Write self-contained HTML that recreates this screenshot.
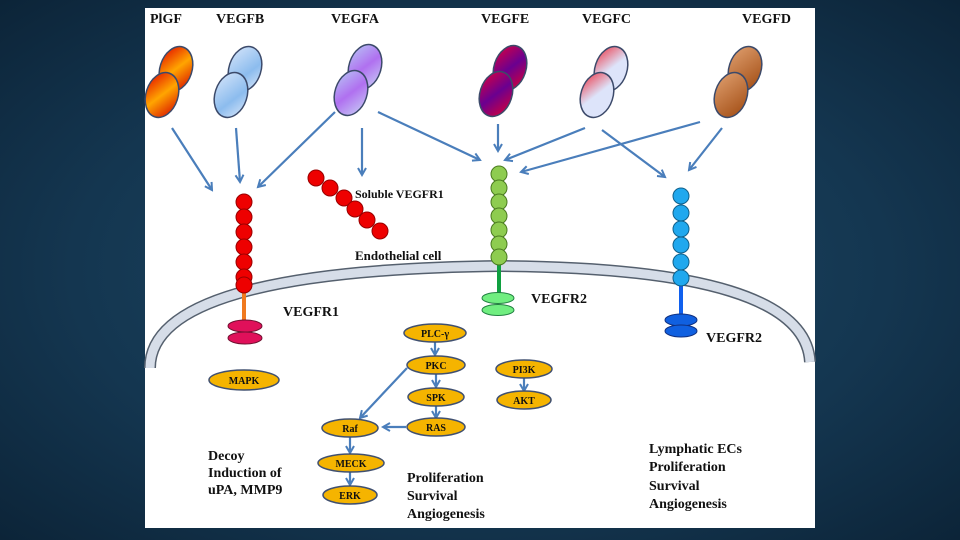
<!DOCTYPE html>
<html><head><meta charset="utf-8"><style>
html,body{margin:0;padding:0;width:960px;height:540px;overflow:hidden;background:radial-gradient(ellipse at 50% 50%,#1d4a66 0%,#143650 60%,#0c2438 100%);}
svg{position:absolute;left:0;top:0}
text{font-family:"Liberation Serif",serif;font-weight:bold;fill:#111}
</style></head><body>
<svg width="960" height="540" viewBox="0 0 960 540">
<defs>
<marker id="ar" markerWidth="10" markerHeight="10" refX="8" refY="5" orient="auto" markerUnits="userSpaceOnUse"><path d="M1,1 L8,5 L1,9" fill="none" stroke="#4a7ebb" stroke-width="2"/></marker>
<linearGradient id="gP" x1="0" y1="0" x2="1" y2="1"><stop offset="0" stop-color="#e00000"/><stop offset=".5" stop-color="#ffa500"/><stop offset="1" stop-color="#d40000"/></linearGradient>
<linearGradient id="gB" x1="0" y1="0" x2="1" y2="1"><stop offset="0" stop-color="#d8e6fa"/><stop offset=".6" stop-color="#8cbcee"/><stop offset="1" stop-color="#dbe8fa"/></linearGradient>
<linearGradient id="gA" x1="0" y1="0" x2="1" y2="1"><stop offset="0" stop-color="#b7c8f5"/><stop offset=".5" stop-color="#b070f0"/><stop offset="1" stop-color="#c8d4f6"/></linearGradient>
<linearGradient id="gE" x1="0" y1="0" x2="1" y2="1"><stop offset="0" stop-color="#e0003a"/><stop offset=".5" stop-color="#6a0090"/><stop offset="1" stop-color="#e00030"/></linearGradient>
<linearGradient id="gC" x1="0" y1="0" x2="1" y2="1"><stop offset="0" stop-color="#ee3040"/><stop offset=".5" stop-color="#dde4fa"/><stop offset="1" stop-color="#dde4fa"/></linearGradient>
<linearGradient id="gD" x1="0" y1="0" x2="1" y2="1"><stop offset="0" stop-color="#e0a070"/><stop offset="1" stop-color="#a04a10"/></linearGradient>
</defs>
<rect x="145" y="8" width="670" height="520" fill="#fff"/>
<g font-size="14">
<text x="150" y="23">PlGF</text><text x="216" y="23">VEGFB</text><text x="331" y="23">VEGFA</text>
<text x="481" y="23">VEGFE</text><text x="582" y="23">VEGFC</text><text x="742" y="23">VEGFD</text>
</g>
<g stroke="#3c4a6a" stroke-width="1.5">
<g transform="translate(168,82)"><ellipse cx="8" cy="-13" rx="16" ry="23" transform="rotate(18 8 -13)" fill="url(#gP)"/><ellipse cx="-6" cy="13" rx="16" ry="23" transform="rotate(18 -6 13)" fill="url(#gP)"/></g>
<g transform="translate(237,82)"><ellipse cx="8" cy="-13" rx="16" ry="23" transform="rotate(18 8 -13)" fill="url(#gB)"/><ellipse cx="-6" cy="13" rx="16" ry="23" transform="rotate(18 -6 13)" fill="url(#gB)"/></g>
<g transform="translate(357,80)"><ellipse cx="8" cy="-13" rx="16" ry="23" transform="rotate(18 8 -13)" fill="url(#gA)"/><ellipse cx="-6" cy="13" rx="16" ry="23" transform="rotate(18 -6 13)" fill="url(#gA)"/></g>
<g transform="translate(502,81)"><ellipse cx="8" cy="-13" rx="16" ry="23" transform="rotate(18 8 -13)" fill="url(#gE)"/><ellipse cx="-6" cy="13" rx="16" ry="23" transform="rotate(18 -6 13)" fill="url(#gE)"/></g>
<g transform="translate(603,82)"><ellipse cx="8" cy="-13" rx="16" ry="23" transform="rotate(18 8 -13)" fill="url(#gC)"/><ellipse cx="-6" cy="13" rx="16" ry="23" transform="rotate(18 -6 13)" fill="url(#gC)"/></g>
<g transform="translate(737,82)"><ellipse cx="8" cy="-13" rx="16" ry="23" transform="rotate(18 8 -13)" fill="url(#gD)"/><ellipse cx="-6" cy="13" rx="16" ry="23" transform="rotate(18 -6 13)" fill="url(#gD)"/></g>
</g>
<g stroke="#4a7ebb" stroke-width="2.2" marker-end="url(#ar)">
<line x1="172" y1="128" x2="212" y2="190"/>
<line x1="236" y1="128" x2="240" y2="182"/>
<line x1="335" y1="112" x2="258" y2="187"/>
<line x1="362" y1="128" x2="362" y2="175"/>
<line x1="378" y1="112" x2="480" y2="160"/>
<line x1="498" y1="124" x2="498" y2="151"/>
<line x1="585" y1="128" x2="505" y2="160"/>
<line x1="602" y1="130" x2="665" y2="177"/>
<line x1="700" y1="122" x2="521" y2="172"/>
<line x1="722" y1="128" x2="689" y2="170"/>
</g>
<path d="M150,368 Q150,270 500,266 Q805,268 810,362" fill="none" stroke="#55606e" stroke-width="12"/>
<path d="M150,368 Q150,270 500,266 Q805,268 810,362" fill="none" stroke="#d6dde8" stroke-width="9"/>
<text x="355" y="260" font-size="13">Endothelial cell</text>
<line x1="244" y1="288" x2="244" y2="322" stroke="#f07a20" stroke-width="4"/>
<g fill="#ee0000" stroke="#900" stroke-width="1">
<circle cx="244" cy="202" r="8"/><circle cx="244" cy="217" r="8"/><circle cx="244" cy="232" r="8"/><circle cx="244" cy="247" r="8"/><circle cx="244" cy="262" r="8"/><circle cx="244" cy="277" r="8"/><circle cx="244" cy="285" r="8"/>
<circle cx="316" cy="178" r="8"/><circle cx="330" cy="188" r="8"/><circle cx="344" cy="198" r="8"/><circle cx="355" cy="209" r="8"/><circle cx="367" cy="220" r="8"/><circle cx="380" cy="231" r="8"/>
</g>
<text x="355" y="198" font-size="12">Soluble VEGFR1</text>
<ellipse cx="245" cy="326" rx="17" ry="6" fill="#e0105a" stroke="#701030"/>
<ellipse cx="245" cy="338" rx="17" ry="6" fill="#e0105a" stroke="#701030"/>
<text x="283" y="316" font-size="14">VEGFR1</text>
<line x1="499" y1="262" x2="499" y2="294" stroke="#10a040" stroke-width="4"/>
<g fill="#8ecc50" stroke="#4a7a20" stroke-width="1">
<circle cx="499" cy="174" r="8"/><circle cx="499" cy="188" r="8"/><circle cx="499" cy="202" r="8"/><circle cx="499" cy="216" r="8"/><circle cx="499" cy="230" r="8"/><circle cx="499" cy="244" r="8"/><circle cx="499" cy="257" r="8"/>
</g>
<ellipse cx="498" cy="298" rx="16" ry="5.5" fill="#70ee80" stroke="#208040"/>
<ellipse cx="498" cy="310" rx="16" ry="5.5" fill="#70ee80" stroke="#208040"/>
<text x="531" y="303" font-size="14">VEGFR2</text>
<line x1="681" y1="284" x2="681" y2="318" stroke="#1060ee" stroke-width="4"/>
<g fill="#20a8ee" stroke="#10608a" stroke-width="1">
<circle cx="681" cy="196" r="8"/><circle cx="681" cy="213" r="8"/><circle cx="681" cy="229" r="8"/><circle cx="681" cy="245" r="8"/><circle cx="681" cy="262" r="8"/><circle cx="681" cy="278" r="8"/>
</g>
<ellipse cx="681" cy="320" rx="16" ry="6" fill="#1060e0" stroke="#103080"/>
<ellipse cx="681" cy="331" rx="16" ry="6" fill="#1060e0" stroke="#103080"/>
<text x="706" y="342" font-size="14">VEGFR2</text>
<g stroke="#4a7ebb" stroke-width="2.2" marker-end="url(#ar)">
<line x1="435" y1="342" x2="435" y2="355"/>
<line x1="436" y1="374" x2="436" y2="387"/>
<line x1="436" y1="406" x2="436" y2="418"/>
<line x1="407" y1="368" x2="360" y2="418"/>
<line x1="406" y1="427" x2="383" y2="427"/>
<line x1="350" y1="437" x2="350" y2="453"/>
<line x1="350" y1="472" x2="350" y2="485"/>
<line x1="524" y1="378" x2="524" y2="391"/>
</g>
<g fill="#f5b400" stroke="#405070" stroke-width="1.5">
<ellipse cx="435" cy="333" rx="31" ry="9"/><ellipse cx="436" cy="365" rx="29" ry="9"/><ellipse cx="436" cy="397" rx="28" ry="9"/><ellipse cx="436" cy="427" rx="29" ry="9"/>
<ellipse cx="350" cy="428" rx="28" ry="9"/><ellipse cx="351" cy="463" rx="33" ry="9"/><ellipse cx="350" cy="495" rx="27" ry="9"/>
<ellipse cx="524" cy="369" rx="28" ry="9"/><ellipse cx="524" cy="400" rx="27" ry="9"/><ellipse cx="244" cy="380" rx="35" ry="10"/>
</g>
<g font-size="10" text-anchor="middle">
<text x="435" y="337">PLC-γ</text><text x="436" y="369">PKC</text><text x="436" y="401">SPK</text><text x="436" y="431">RAS</text>
<text x="350" y="432">Raf</text><text x="351" y="467">MECK</text><text x="350" y="499">ERK</text>
<text x="524" y="373">PI3K</text><text x="524" y="404">AKT</text><text x="244" y="384">MAPK</text>
</g>
<g font-size="14">
<text x="208" y="460">Decoy</text><text x="208" y="477">Induction of</text><text x="208" y="494">uPA, MMP9</text>
<text x="407" y="482">Proliferation</text><text x="407" y="500">Survival</text><text x="407" y="518">Angiogenesis</text>
<text x="649" y="453">Lymphatic ECs</text><text x="649" y="471">Proliferation</text><text x="649" y="490">Survival</text><text x="649" y="508">Angiogenesis</text>
</g>
</svg>
</body></html>
